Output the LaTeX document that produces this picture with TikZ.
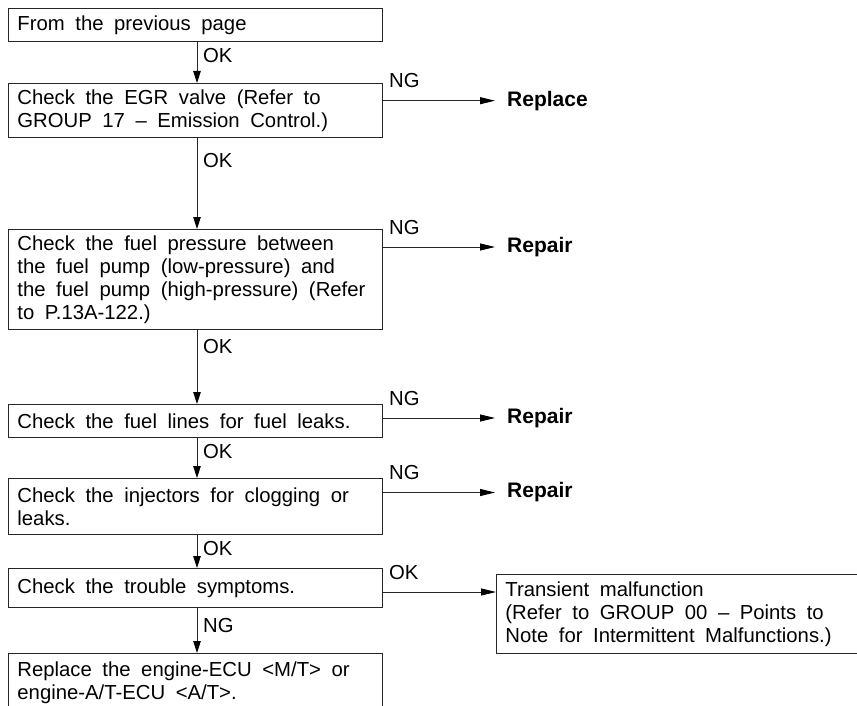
\documentclass[tikz,border=0pt]{standalone}
\usepackage{fontspec}
\setmainfont{Liberation Sans}
\newfontfamily\flowfamily{Liberation Sans}[WordSpace=1.9]
\usetikzlibrary{arrows.meta,calc}
\newcommand\flowfont{\flowfamily\fontsize{20.3}{23}\selectfont}
\newcommand\widespaces{\spaceskip=0.52em\relax\xspaceskip=0.6em\relax}
\begin{document}
\begin{tikzpicture}[x=1pt,y=-1pt,
  font=\flowfont,
  every node/.append style={execute at begin node=\widespaces},
  line/.style={draw=black!85, line width=0.9pt},
  stepbox/.style={line, anchor=north west, align=left, text width=356pt,
    inner xsep=9pt, inner ysep=0pt, minimum width=374pt},
  resnode/.style={font=\flowfamily\fontsize{21}{23}\selectfont\bfseries, anchor=west,
    inner xsep=12pt, inner ysep=0pt},
  lab/.style={anchor=base west, inner sep=0pt},
  vflow/.style={line, -{Triangle[length=12pt,width=7.5pt,color=black]}},
  hflow/.style={line, -{Triangle[length=15pt,width=7pt,color=black]}}]
\useasboundingbox (0,0) rectangle (857,706);
\clip (0,0) rectangle (857,706);

% column of the main chain and the row of the last side branch
\coordinate (ax) at (197,0);
\coordinate (okrow) at (0,592);

% check steps
\node[stepbox, minimum height=33pt] (b1) at (8,8) {From the previous page};
\node[stepbox, minimum height=54pt] (b2) at (8,83)
  {Check the EGR valve (Refer to\\GROUP 17 – Emission Control.)};
\node[stepbox, minimum height=100pt] (b3) at (8,229)
  {Check the fuel pressure between\\the fuel pump (low-pressure) and\\the fuel pump (high-pressure) (Refer\\to P.13A-122.)};
\node[stepbox, minimum height=33pt] (b4) at (8,404) {Check the fuel lines for fuel leaks.};
\node[stepbox, minimum height=56pt] (b5) at (8,478)
  {Check the injectors for clogging or\\leaks.};
\node[stepbox, minimum height=39pt] (b6) at (8,568) {Check the trouble symptoms.};
\node[stepbox, minimum height=59pt] (b7) at (8,653)
  {Replace the engine-ECU <M/T> or\\engine-A/T-ECU <A/T>.};
\node[stepbox, text width=362pt, minimum width=380pt, minimum height=79pt] (tm) at (496,574)
  {Transient malfunction\\(Refer to GROUP 00 – Points to\\Note for Intermittent Malfunctions.)};

% remedies
\node[resnode] (r1) at (495,100.7) {Replace};
\node[resnode] (r2) at (495,247) {Repair};
\node[resnode] (r3) at (495,418) {Repair};
\node[resnode] (r4) at (495,492.5) {Repair};

% main chain
\draw[vflow] (b1.south -| ax) -- (b2.north -| ax);
\node[lab] at ($(b1.south -| ax)+(6,21)$) {OK};
\draw[vflow] (b2.south -| ax) -- (b3.north -| ax);
\node[lab] at ($(b2.south -| ax)+(6,30)$) {OK};
\draw[vflow] (b3.south -| ax) -- (b4.north -| ax);
\node[lab] at ($(b3.south -| ax)+(6,24)$) {OK};
\draw[vflow] (b4.south -| ax) -- (b5.north -| ax);
\node[lab] at ($(b4.south -| ax)+(6,21)$) {OK};
\draw[vflow] (b5.south -| ax) -- (b6.north -| ax);
\node[lab] at ($(b5.south -| ax)+(6,21)$) {OK};
\draw[vflow] (b6.south -| ax) -- (b7.north -| ax);
\node[lab] at ($(b6.south -| ax)+(6,25)$) {NG};

% side branches
\draw[hflow] (b2.east |- r1.west) -- (r1.west);
\node[lab] at ($(b2.east |- r1.west)+(6,-13)$) {NG};
\draw[hflow] (b3.east |- r2.west) -- (r2.west);
\node[lab] at ($(b3.east |- r2.west)+(6,-13)$) {NG};
\draw[hflow] (b4.east |- r3.west) -- (r3.west);
\node[lab] at ($(b4.east |- r3.west)+(6,-13)$) {NG};
\draw[hflow] (b5.east |- r4.west) -- (r4.west);
\node[lab] at ($(b5.east |- r4.west)+(6,-13)$) {NG};
\draw[hflow] (b6.east |- okrow) -- (tm.west |- okrow);
\node[lab] at ($(b6.east |- okrow)+(6,-13)$) {OK};
\end{tikzpicture}
\end{document}
